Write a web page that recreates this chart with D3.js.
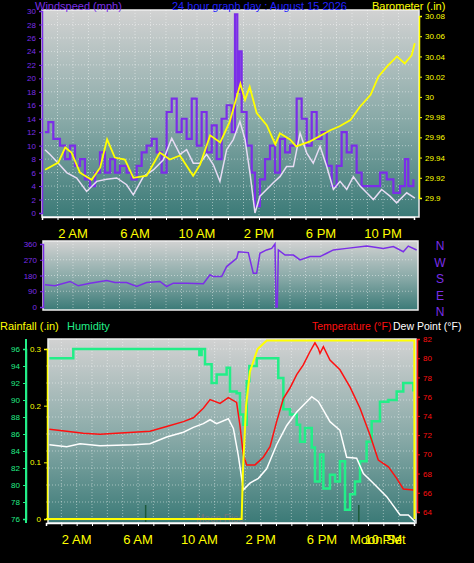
<!DOCTYPE html>
<html lang="en">
<head>
<meta charset="UTF-8">
<title>24 hour graph</title>
<style>
  body { margin: 0; background: #000; }
  svg { display: block; font-family: "Liberation Sans", Arial, sans-serif; }
  .domain { stroke-width: 1.5; }
</style>
</head>
<body>
<script src="https://cdn.jsdelivr.net/npm/d3@7/dist/d3.min.js"></script>
<script>
// ---- data (hours since midnight) ----
const hourTicks = [2, 6, 10, 14, 18, 22];
const hourLabels = ["2 AM", "6 AM", "10 AM", "2 PM", "6 PM", "10 PM"];

const baroT = [0.2,1.05,1.5,1.9,2.45,3.2,3.75,4.2,4.7,5.35,5.9,6.75,7.6,8.25,8.9,9.75,10.2,10.85,11.5,12.1,12.8,13.1,13.4,13.85,14.5,15.05,15.35,16,16.4,17.3,17.9,18.6,19.2,19.9,20.5,21.2,21.7,22.25,22.9,23.4,23.85,24.05];
const baroV = [29.928,29.935,29.95,29.945,29.925,29.918,29.93,29.958,29.94,29.938,29.92,29.922,29.945,29.938,29.942,29.922,29.933,29.962,29.955,29.975,30.013,29.997,30.01,29.984,29.972,29.953,29.964,29.958,29.951,29.956,29.961,29.967,29.971,29.977,29.99,30.002,30.02,30.03,30.04,30.033,30.041,30.053];

const windT = [0.19,0.52,1.05,1.59,2.24,2.88,3.53,4.17,4.82,5.46,5.89,6.54,7.18,7.83,8.37,8.9,9.33,9.76,10.19,10.62,11.05,11.48,11.91,12.34,12.77,13.1,13.42,13.74,14.06,14.49,14.92,15.35,15.78,16.22,16.65,17.08,17.5,17.94,18.37,18.8,19.23,19.66,20.09,20.52,20.95,21.38,21.91,22.45,22.88,23.53,24.06];
const windV = [9.4,8.7,7.4,6,5.2,3.2,4.7,5,5.2,4.2,2.7,5.4,6.4,7.9,11.1,8.7,9.4,7.4,7.4,8.7,7.2,4.7,9.4,10.9,13.6,10.9,5.9,0,2.5,3.5,4.5,5.4,6.9,6.9,11.9,8.9,7.4,9.9,6.9,3.5,4.7,3.5,5.4,4,3,2,3.5,2.5,1.5,3,2.2];

const gustT = [0.19,0.41,0.73,1.16,1.48,1.81,2.13,2.45,2.77,3.1,3.42,3.74,4.06,4.39,4.71,5.03,5.46,5.78,6.11,6.43,6.75,7.08,7.4,7.72,8.04,8.37,8.69,9.01,9.33,9.66,9.98,10.3,10.62,10.95,11.27,11.59,11.91,12.24,12.45,12.6,12.73,12.88,13.2,13.53,13.74,14.06,14.39,14.71,15.03,15.35,15.68,16,16.43,16.75,17.08,17.4,17.72,18.04,18.37,18.69,19.01,19.33,19.66,19.98,20.3,20.62,20.95,21.38,21.81,22.24,22.67,23.1,23.42,23.63,23.96];
const gustV = [12,13.5,11,10,8,10,7,8,5,4,6,9,6,8,6,7,6,5,7,9,10,11,9,6,15,17,12,14,11,17,10,15,9,13,8,14,16,12,29.5,18,24,15,10,6,1,5,8,10,6,11,9,10,17,14,10,15,11,12,7,4,7,12,9,10,6,4,4,4,6,5,3,4,8,4,5];

const dirT = [0.19,0.84,1.81,2.34,3.1,4.17,4.71,5.46,6.11,6.75,7.61,8.04,8.47,9.33,10.41,10.84,11.05,11.59,11.91,12.56,12.67,13.31,13.63,13.85,14.06,14.49,14.82,15.03,15.1,15.18,15.25,15.68,16.22,16.65,17.29,17.94,18.37,18.8,19.66,20.95,22.02,22.67,23.31,23.63,24.17];
const dirV = [127,121,146,121,136,152,140,140,117,140,146,117,136,136,133,184,174,174,231,278,316,311,193,193,307,326,335,360,0,0,326,297,297,269,288,288,307,326,335,348,335,345,316,348,326];
const dirLabels = ["N", "W", "S", "E", "N"];

const tempT = [0.22,1.35,2.43,3.52,4.61,5.7,6.78,7.87,8.96,9.61,10.26,10.7,11.35,11.89,12.43,12.65,12.87,13.09,13.63,14.17,14.61,15.04,15.48,15.91,16.35,16.78,17.22,17.54,17.76,17.87,18.09,18.52,19.17,19.83,20.48,21.13,21.67,22.33,22.87,23.3,23.96];
const tempV = [72.6,72.4,72.2,72.1,72.2,72.3,72.4,72.9,73.4,73.8,74.8,75.7,75.3,75.9,75.4,73.0,69.9,68.9,68.9,69.7,70.8,73.4,75.8,76.9,78.3,79.3,80.7,81.6,81.0,80.5,81.2,79.8,78.8,77.0,74.8,72.0,69.4,68.7,67.5,66.4,66.3];

const dewT = [0.22,1.35,2.22,3.52,5.7,6.78,7.87,8.96,9.61,10.26,10.7,11.13,11.89,12.22,12.54,12.87,13.3,13.85,14.39,15.04,15.7,16.35,16.78,17.33,17.76,18.09,18.52,19.17,19.61,20.26,20.7,21.35,22.22,23.09,23.63,24.07];
const dewV = [71.0,70.8,71.1,70.9,71.0,71.1,71.8,72.3,72.8,73.2,73.6,73.2,73.7,72.7,69.9,66.3,67.0,67.5,68.5,71.0,73.0,74.4,75.1,76.0,75.5,74.6,73.4,72.5,69.7,69.6,68.0,67.0,65.6,63.7,63.7,63.0];

const humT = [0.22,1.67,1.78,9.93,10.0,10.15,10.37,10.8,11.13,11.67,11.78,12.0,12.43,12.65,12.87,13.09,13.26,13.74,14.93,15.15,15.48,15.91,16.35,16.57,16.89,17.33,17.54,17.87,18.09,18.52,18.85,19.17,19.5,19.83,20.15,20.48,20.91,21.24,21.78,22.33,22.87,23.3,23.74,23.96];
const humV = [94.9,94.9,96,96,95.3,96,94.2,92,93,93,93.8,91,90.8,88.3,87.1,92.2,94,94.9,94.9,92.6,88.9,88.3,87.1,85.1,86.7,84.4,80.4,83.6,79.6,81.2,80.4,82.8,77.1,78.9,80.4,82.8,85.1,87.5,89.8,90,91,92,92,91];

const rainT = [0, 12.76, 12.85, 13.05, 13.3, 13.8, 14.4, 24.02, 24.03];
const rainV = [0, 0, 0.09, 0.2, 0.26, 0.3, 0.315, 0.315, 0];

const moonTicks = [6.5, 20.4];

// ---- layout ----
const W = 474, H = 563;
const svg = d3.select("body").append("svg").attr("width", W).attr("height", H);
const defs = svg.append("defs");
const grad = defs.append("linearGradient").attr("id", "bg").attr("x1", 0).attr("x2", 0).attr("y1", 0).attr("y2", 1);
grad.append("stop").attr("offset", "0%").attr("stop-color", "#d2d2d2");
grad.append("stop").attr("offset", "55%").attr("stop-color", "#86a8a6");
grad.append("stop").attr("offset", "100%").attr("stop-color", "#3b7a77");

const purple = "#7b2ee8", yellow = "#ffff00", green = "#22ee88", red = "#ff1010";

function panel(x0, x1, y0, y1) {
  svg.append("rect").attr("x", x0).attr("y", y0).attr("width", x1 - x0).attr("height", y1 - y0)
    .attr("fill", "url(#bg)").attr("stroke", "#eee").attr("stroke-width", 1.5);
}
function grid(x, y, yticks, y0, y1) {
  const g = svg.append("g").attr("stroke", "#fff").attr("stroke-opacity", 0.45).attr("stroke-dasharray", "1,2");
  g.selectAll(".v").data(d3.range(1, 24)).join("line")
    .attr("x1", d => x(d)).attr("x2", d => x(d)).attr("y1", y0).attr("y2", y1);
  g.selectAll(".h").data(yticks).join("line")
    .attr("x1", x.range()[0]).attr("x2", x.range()[1]).attr("y1", d => y(d)).attr("y2", d => y(d));
}
function timeAxis(x, yPos, ty) {
  const g = svg.append("g").attr("transform", `translate(0,${yPos})`)
    .call(d3.axisBottom(x).tickValues(d3.range(1, 25)).tickSize(3).tickFormat(""));
  g.selectAll("line, path").attr("stroke", "#fff");
  svg.append("g").selectAll("text").data(hourTicks).join("text")
    .attr("x", d => x(d)).attr("y", ty).attr("text-anchor", "middle")
    .attr("fill", yellow).attr("font-size", 13).text((d, i) => hourLabels[i]);
}
function styleAxis(g, col, fs) {
  g.selectAll("line, path").attr("stroke", col);
  g.selectAll("text").attr("fill", col).attr("font-size", fs);
}

// ---- panel 1: wind speed & barometer ----
const x1 = d3.scaleLinear().domain([0, 24]).range([42, 414]);
const yW = d3.scaleLinear().domain([0, 30]).range([213, 11]);
const yB = d3.scaleLinear().domain([29.9, 30.08]).range([198, 16]);
panel(42, 419, 10, 217);
grid(x1, yW, d3.range(2, 30, 2), 10, 217);

svg.append("path").datum(gustT.map((t, i) => [t, gustV[i]]))
  .attr("fill", "none").attr("stroke", purple).attr("stroke-width", 2.2)
  .attr("d", d3.line().x(d => x1(d[0])).y(d => yW(d[1])).curve(d3.curveStepAfter));
svg.append("path").datum(windT.map((t, i) => [t, windV[i]]))
  .attr("fill", "none").attr("stroke", "#e8dcf4").attr("stroke-width", 1.5)
  .attr("d", d3.line().x(d => x1(d[0])).y(d => yW(d[1])));
svg.append("path").datum(baroT.map((t, i) => [t, baroV[i]]))
  .attr("fill", "none").attr("stroke", yellow).attr("stroke-width", 1.8)
  .attr("d", d3.line().x(d => x1(d[0])).y(d => yB(d[1])));

styleAxis(svg.append("g").attr("transform", "translate(42,0)")
  .call(d3.axisLeft(yW).tickValues(d3.range(0, 31, 2)).tickSize(3)), purple, 8);
styleAxis(svg.append("g").attr("transform", "translate(419,0)")
  .call(d3.axisRight(yB).tickValues(d3.range(29.9, 30.081, 0.02)).tickSize(3).tickFormat(d => +d.toFixed(2))), yellow, 8);
timeAxis(x1, 217, 238);

svg.append("text").attr("x", 35).attr("y", 10).attr("fill", purple).attr("font-size", 11).text("Windspeed (mph)");
svg.append("text").attr("x", 172).attr("y", 10).attr("fill", "#2222ff").attr("font-size", 11).text("24 hour graph day : August 15 2026");
svg.append("text").attr("x", 372).attr("y", 10).attr("fill", yellow).attr("font-size", 11).text("Barometer (.in)");

// ---- panel 2: wind direction ----
const yD = d3.scaleLinear().domain([0, 360]).range([307, 244]);
panel(43, 418, 241, 310);
grid(x1, yD, [90, 180, 270], 241, 310);
svg.append("path").datum(dirT.map((t, i) => [t, dirV[i]]))
  .attr("fill", "none").attr("stroke", purple).attr("stroke-width", 1.5)
  .attr("d", d3.line().x(d => x1(d[0])).y(d => yD(d[1])));
styleAxis(svg.append("g").attr("transform", "translate(43,0)")
  .call(d3.axisLeft(yD).tickValues([0, 90, 180, 270, 360]).tickSize(3)), purple, 8);
svg.selectAll(".dir").data(dirLabels).join("text")
  .attr("x", 440).attr("y", (d, i) => 250 + i * 16.5).attr("text-anchor", "middle")
  .attr("fill", purple).attr("font-size", 12).text(d => d);

// ---- panel 3: rain, humidity, temperature, dew point ----
const x3 = d3.scaleLinear().domain([0, 24]).range([46, 414]);
const yH = d3.scaleLinear().domain([76, 96]).range([519, 349]);
const yR = d3.scaleLinear().domain([0, 0.3]).range([519, 349]);
const yT = d3.scaleLinear().domain([64, 82]).range([512, 339]);
panel(48, 416, 339, 523);
grid(x3, yH, d3.range(78, 97, 2), 339, 523);

svg.selectAll(".moon").data(moonTicks).join("line")
  .attr("x1", d => x3(d)).attr("x2", d => x3(d)).attr("y1", 505).attr("y2", 522)
  .attr("stroke", "#1d5a3a").attr("stroke-width", 1.5);
svg.append("text").attr("x", 196).attr("y", 522).attr("fill", "#777").attr("font-size", 10).text("Moon Rise");

svg.append("path").datum(humT.map((t, i) => [t, humV[i]]))
  .attr("fill", "none").attr("stroke", green).attr("stroke-width", 2.5)
  .attr("d", d3.line().x(d => x3(d[0])).y(d => yH(d[1])).curve(d3.curveStepAfter));
svg.append("path").datum(tempT.map((t, i) => [t, tempV[i]]))
  .attr("fill", "none").attr("stroke", red).attr("stroke-width", 1.5)
  .attr("d", d3.line().x(d => x3(d[0])).y(d => yT(d[1])));
svg.append("path").datum(dewT.map((t, i) => [t, dewV[i]]))
  .attr("fill", "none").attr("stroke", "#fff").attr("stroke-width", 1.5)
  .attr("d", d3.line().x(d => x3(d[0])).y(d => yT(d[1])));
svg.append("path").datum(rainT.map((t, i) => [t, rainV[i]]))
  .attr("fill", "none").attr("stroke", yellow).attr("stroke-width", 2)
  .attr("d", d3.line().x(d => x3(d[0])).y(d => yR(d[1])));

styleAxis(svg.append("g").attr("transform", "translate(26,0)")
  .call(d3.axisLeft(yH).tickValues(d3.range(76, 97, 2)).tickSize(3)), green, 8);
svg.append("line").attr("x1", 26).attr("x2", 26).attr("y1", 339).attr("y2", 523).attr("stroke", green).attr("stroke-width", 2);
styleAxis(svg.append("g").attr("transform", "translate(47,0)")
  .call(d3.axisLeft(yR).tickValues([0, 0.1, 0.2, 0.3]).tickSize(3).tickFormat(d => d === 0 ? "0" : d3.format(".1f")(d))), yellow, 8);
styleAxis(svg.append("g").attr("transform", "translate(417,0)")
  .call(d3.axisRight(yT).tickValues(d3.range(64, 83, 2)).tickSize(3)), red, 8);
timeAxis(x3, 523, 544);
svg.append("text").attr("x", 350).attr("y", 544).attr("fill", yellow).attr("font-size", 13).text("Moon Set");

svg.append("text").attr("x", 0).attr("y", 330).attr("fill", yellow).attr("font-size", 11).text("Rainfall (.in)");
svg.append("text").attr("x", 67).attr("y", 330).attr("fill", green).attr("font-size", 11).text("Humidity");
svg.append("text").attr("x", 312).attr("y", 330).attr("fill", red).attr("font-size", 10.5).text("Temperature (°F)");
svg.append("text").attr("x", 393).attr("y", 330).attr("fill", "#fff").attr("font-size", 10.5).text("Dew Point (°F)");
</script>
</body>
</html>
